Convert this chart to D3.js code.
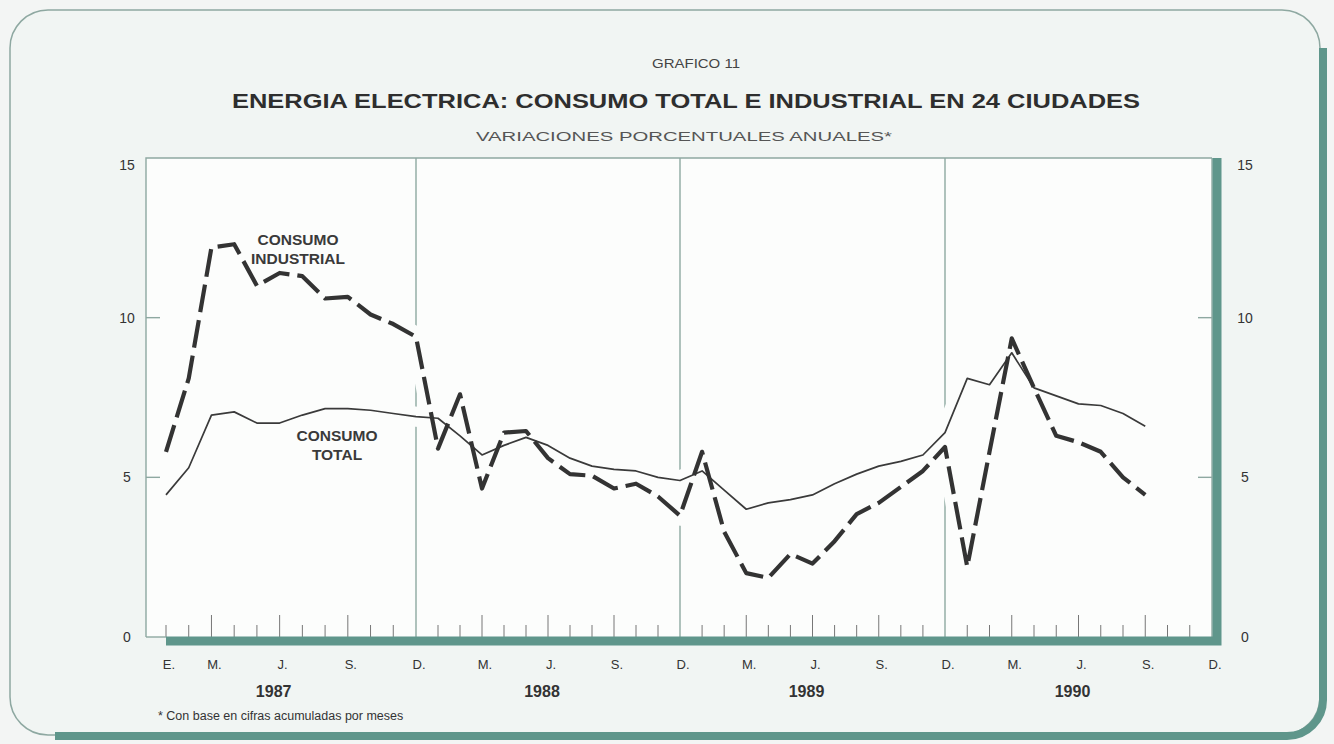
<!DOCTYPE html>
<html>
<head>
<meta charset="utf-8">
<script src="https://cdn.jsdelivr.net/npm/d3@7"></script>
<style>
    body { margin: 0; background: #f3f5f4; }
    svg { display: block; font-family: "Liberation Sans", Arial, sans-serif; }
</style>
</head>
<body>
<div id="container"></div>
<script>
// values, Jan 1987 .. Sep 1990
const years = [1987, 1988, 1989, 1990];
const monthLetters = ['E.', 'F.', 'M.', 'A.', 'M.', 'J.', 'J.', 'A.', 'S.', 'O.', 'N.', 'D.'];
const yTicks = [0, 5, 10, 15];

const consumoTotal = [
    4.45, 5.3, 6.95, 7.05, 6.7, 6.7, 6.95, 7.15, 7.15, 7.1, 7.0, 6.9,
    6.85, 6.3, 5.7, 6.0, 6.25, 6.0, 5.6, 5.35, 5.25, 5.2, 5.0, 4.9,
    5.2, 4.6, 4.0, 4.2, 4.3, 4.45, 4.8, 5.1, 5.35, 5.5, 5.7, 6.4,
    8.1, 7.9, 8.9, 7.8, 7.55, 7.3, 7.25, 7.0, 6.6
];
const consumoIndustrial = [
    5.8, 8.1, 12.2, 12.3, 11.0, 11.4, 11.3, 10.6, 10.65, 10.1, 9.8, 9.4,
    5.9, 7.6, 4.65, 6.4, 6.45, 5.6, 5.1, 5.05, 4.65, 4.8, 4.4, 3.8,
    5.8, 3.3, 2.0, 1.85, 2.6, 2.3, 3.0, 3.85, 4.2, 4.7, 5.2, 5.95,
    2.2, 5.8, 9.35, 7.8, 6.3, 6.1, 5.8, 5.0, 4.45
];

const width = 1334;
const height = 744;
const teal = '#5f968b';
const frame = '#8ea8a1';
const ink = '#333';

const plot = { left: 146, right: 1212, top: 158, bottom: 637 };

// the first year is drawn a little wider than the others
const x = d3.scaleLinear()
    .domain([-0.9, 0, 11, 23, 35, 47])
    .range([plot.left, 166, 416, 680, 945, plot.right]);
const y = d3.scaleLinear().domain([0, 15]).range([plot.bottom, plot.top]);

const svg = d3.select('#container').append('svg')
    .attr('width', width)
    .attr('height', height);

// card
svg.append('rect')
    .attr('x', 10).attr('y', 10)
    .attr('width', 1310).attr('height', 725)
    .attr('rx', 38)
    .attr('fill', '#f1f5f3')
    .attr('stroke', frame)
    .attr('stroke-width', 1.5);
svg.append('path')
    .attr('d', 'M1323,48 V700 A36,36 0 0 1 1287,736 H55')
    .attr('fill', 'none')
    .attr('stroke', teal)
    .attr('stroke-width', 8);

// titles
svg.append('text')
    .attr('x', 696).attr('y', 68)
    .attr('text-anchor', 'middle')
    .attr('font-size', 13).attr('fill', '#444')
    .attr('textLength', 88).attr('lengthAdjust', 'spacingAndGlyphs')
    .text('GRAFICO 11');
svg.append('text')
    .attr('x', 686).attr('y', 108)
    .attr('text-anchor', 'middle')
    .attr('font-size', 20).attr('font-weight', 'bold').attr('fill', '#2e2e2e')
    .attr('textLength', 908).attr('lengthAdjust', 'spacingAndGlyphs')
    .text('ENERGIA ELECTRICA: CONSUMO TOTAL E INDUSTRIAL EN 24 CIUDADES');
svg.append('text')
    .attr('x', 684).attr('y', 141)
    .attr('text-anchor', 'middle')
    .attr('font-size', 12).attr('fill', '#555')
    .attr('textLength', 416).attr('lengthAdjust', 'spacingAndGlyphs')
    .text('VARIACIONES PORCENTUALES ANUALES*');

// plot background and frame
svg.append('rect')
    .attr('x', plot.left).attr('y', plot.top)
    .attr('width', plot.right - plot.left).attr('height', plot.bottom - plot.top)
    .attr('fill', '#fcfdfc');
svg.append('path')
    .attr('d', `M${plot.left},${plot.bottom} V${plot.top} H${plot.right}`)
    .attr('fill', 'none')
    .attr('stroke', frame)
    .attr('stroke-width', 1.4);

// month ticks, December gridlines
const months = d3.range(48);
svg.append('g')
    .selectAll('line')
    .data(months)
    .enter().append('line')
    .attr('x1', d => x(d)).attr('x2', d => x(d))
    .attr('y1', plot.bottom)
    .attr('y2', d => d % 12 === 11 ? plot.top : plot.bottom - (d % 3 === 2 ? 22 : 12))
    .attr('stroke', d => d % 12 === 11 ? frame : '#777')
    .attr('stroke-width', d => d % 12 === 11 ? 1.4 : 1);

// y ticks on both sides
svg.append('g')
    .selectAll('line')
    .data([5, 10])
    .enter().append('line')
    .attr('x1', plot.left).attr('x2', plot.left + 14)
    .attr('y1', d => y(d)).attr('y2', d => y(d))
    .attr('stroke', frame).attr('stroke-width', 1.4);
svg.append('g')
    .selectAll('line')
    .data([5, 10])
    .enter().append('line')
    .attr('x1', plot.right - 14).attr('x2', plot.right)
    .attr('y1', d => y(d)).attr('y2', d => y(d))
    .attr('stroke', frame).attr('stroke-width', 1.4);

// lines
const line = d3.line()
    .x((d, i) => x(i))
    .y(d => y(d));

const halo = svg.append('g');
[consumoTotal, consumoIndustrial].forEach(series => {
    halo.append('path')
        .attr('d', line(series))
        .attr('fill', 'none')
        .attr('stroke', '#fcfdfc')
        .attr('stroke-width', 20)
        .attr('stroke-linejoin', 'round');
});

svg.append('path')
    .attr('d', line(consumoTotal))
    .attr('fill', 'none')
    .attr('stroke', '#3a3a3a')
    .attr('stroke-width', 1.7)
    .attr('stroke-linejoin', 'round');

svg.append('path')
    .attr('d', line(consumoIndustrial))
    .attr('fill', 'none')
    .attr('stroke', '#333')
    .attr('stroke-width', 4.2)
    .attr('stroke-dasharray', '28,8')
    .attr('stroke-linejoin', 'round');

// thick right and bottom edges of the plot
svg.append('path')
    .attr('d', `M${x(0)},${plot.bottom + 4} H${plot.right + 5} V${plot.top}`)
    .attr('fill', 'none')
    .attr('stroke', teal)
    .attr('stroke-width', 9);
svg.append('line')
    .attr('x1', plot.left).attr('x2', x(0))
    .attr('y1', plot.bottom).attr('y2', plot.bottom)
    .attr('stroke', frame).attr('stroke-width', 1.4);

// y labels
svg.append('g')
    .selectAll('text')
    .data(yTicks)
    .enter().append('text')
    .attr('x', 127)
    .attr('y', d => y(d) + (d === 15 ? 12 : 5))
    .attr('text-anchor', 'middle')
    .attr('font-size', 14).attr('fill', ink)
    .text(d => d);
svg.append('g')
    .selectAll('text')
    .data(yTicks)
    .enter().append('text')
    .attr('x', 1245)
    .attr('y', d => y(d) + (d === 15 ? 12 : 5))
    .attr('text-anchor', 'middle')
    .attr('font-size', 14).attr('fill', ink)
    .text(d => d);

// month labels
const labelled = months.filter(d => d === 0 || d % 3 === 2);
svg.append('g')
    .selectAll('text')
    .data(labelled)
    .enter().append('text')
    .attr('x', d => x(d) + 3)
    .attr('y', 669)
    .attr('text-anchor', 'middle')
    .attr('font-size', 13).attr('fill', ink)
    .text(d => d === 0 ? 'E.' : monthLetters[d % 12]);

// year labels
svg.append('g')
    .selectAll('text')
    .data(years)
    .enter().append('text')
    .attr('x', (d, i) => x(i * 12 + 5) - 6)
    .attr('y', 697)
    .attr('text-anchor', 'middle')
    .attr('font-size', 16).attr('font-weight', 'bold').attr('fill', ink)
    .text(d => d);

// series labels
const notes = [
    { lines: ['CONSUMO', 'INDUSTRIAL'], x: 298, y: 245 },
    { lines: ['CONSUMO', 'TOTAL'], x: 337, y: 441 }
];
notes.forEach(n => {
    svg.append('text')
        .attr('x', n.x).attr('y', n.y)
        .attr('text-anchor', 'middle')
        .attr('font-size', 15.5).attr('font-weight', 'bold').attr('fill', '#3a3a3a')
        .selectAll('tspan')
        .data(n.lines)
        .enter().append('tspan')
        .attr('x', n.x)
        .attr('dy', (d, i) => i === 0 ? 0 : 18.5)
        .text(d => d);
});

// footnote
svg.append('text')
    .attr('x', 158).attr('y', 720)
    .attr('font-size', 12.5).attr('fill', ink)
    .text('*  Con base en cifras acumuladas por meses');
</script>
</body>
</html>
